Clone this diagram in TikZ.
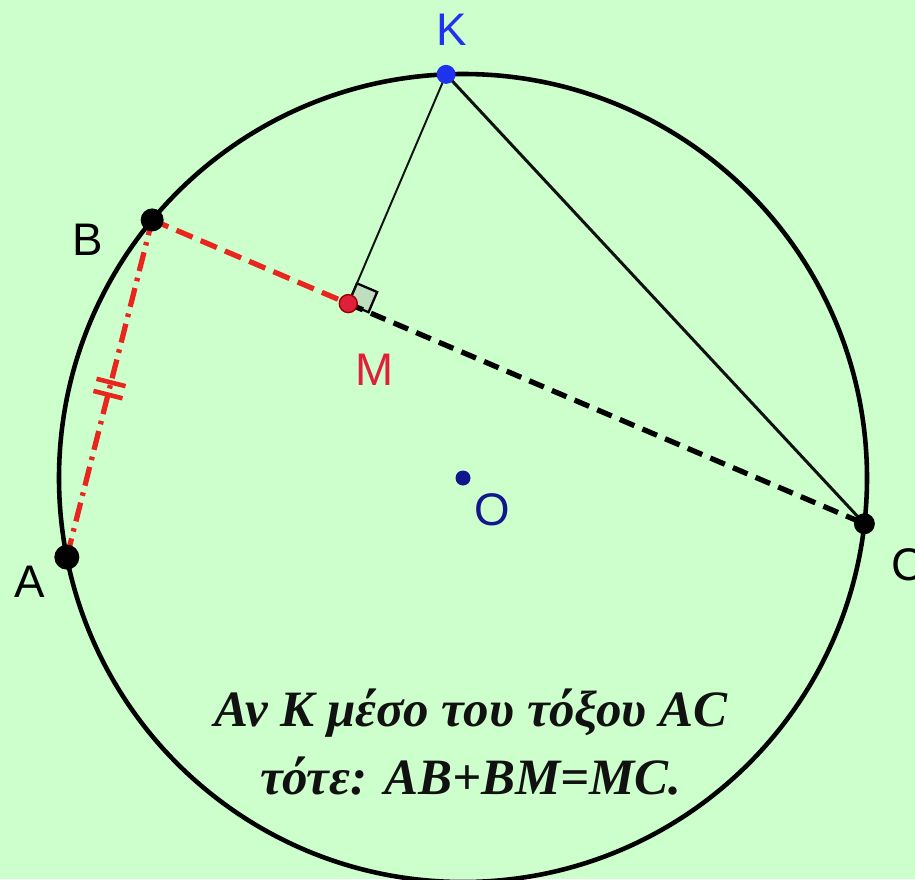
\documentclass[tikz,border=0pt]{standalone}
\usepackage{fontspec}
\setmainfont{Liberation Serif}
\newfontfamily\lblfont{Liberation Sans}
\usetikzlibrary{calc}
\definecolor{geobg}{HTML}{CCFFCC}
\definecolor{geoink}{HTML}{111111}
\definecolor{geoblue}{HTML}{1E32F0}
\definecolor{geored}{HTML}{E0203A}
\definecolor{geodash}{HTML}{E8261E}
\definecolor{geonavy}{HTML}{10168C}
\definecolor{geosq}{HTML}{BFDDBF}
\tikzset{
  rim/.style      = {line width=2.6pt, draw=black},
  chord/.style    = {line width=1.7pt, draw=geoink},
  thinseg/.style  = {line width=1.1pt, draw=geoink},
  blackdash/.style = {line width=3pt, draw=black, dash pattern=on 9pt off 5pt},
  reddash/.style  = {line width=3pt, draw=geodash, dash pattern=on 10pt off 5pt},
  reddot/.style   = {line width=3pt, draw=geodash, dash pattern=on 11pt off 4pt on 2pt off 4pt},
  tickmark/.style = {line width=2.6pt, draw=geodash},
  rightmark/.style = {line width=1.3pt, draw=black, fill=geosq},
  dot/.style      = {circle, inner sep=0pt, fill=black, minimum size=0.44cm},
  lbl/.style      = {font=\lblfont\fontsize{26}{30}\selectfont, inner sep=0pt},
  note/.style     = {font=\fontsize{29}{39}\selectfont\bfseries\itshape, text=geoink,
                     align=center, inner sep=0pt},
}
\begin{document}
\begin{tikzpicture}[x=0.02cm, y=0.02cm]
\useasboundingbox (-463,-401) rectangle (452,478);
\fill[geobg] (-463,-401) rectangle (452,478);

% points of the figure
\coordinate (O) at (0,0);
\coordinate (K) at (92.4:404);
\coordinate (B) at (140.3:404);
\coordinate (A) at (191.3:404);
\coordinate (C) at (-6.5:404);
\coordinate (M) at ($(B)!(K)!(C)$);

\draw[rim] (O) circle [radius=404];

% right angle at M
\coordinate (sq1) at ($(M)!0.44cm!(C)$);
\coordinate (sq2) at ($(M)!0.44cm!(K)$);
\filldraw[rightmark] (M) -- (sq1) -- ($(sq1)+(sq2)-(M)$) -- (sq2) -- cycle;

\draw[thinseg] (K) -- (M);
\draw[chord] (K) -- (C);
\draw[blackdash] (M) -- (C);
\draw[reddash] (B) -- (M);
\draw[reddot] (A) -- (B);
\draw[tickmark] ($(A)!0.482!(B)!0.3cm!90:(B)$) -- ($(A)!0.482!(B)!0.3cm!-90:(B)$);
\draw[tickmark] ($(A)!0.518!(B)!0.3cm!90:(B)$) -- ($(A)!0.518!(B)!0.3cm!-90:(B)$);

\node[dot, minimum size=0.5cm] (dA) at (A) {};
\node[dot, minimum size=0.46cm] (dB) at (B) {};
\node[dot, minimum size=0.42cm] (dC) at (C) {};
\node[dot, fill=geoblue, minimum size=0.38cm] (dK) at (K) {};
\node[dot, fill=geored, draw=red!60!black, line width=0.8pt, minimum size=0.36cm] (dM) at (M) {};
\node[dot, fill=geonavy, minimum size=0.3cm] (dO) at (O) {};

\node[lbl, text=geoblue] (lK) at (-11,448) {K};
\node[lbl] (lB) at (-375,238) {B};
\node[lbl] (lA) at (-433,-104) {A};
\node[lbl] (lC) at (445,-87) {C};
\node[lbl, text=geored] (lM) at (-88,108) {M};
\node[lbl, text=geonavy] (lO) at (29,-32) {O};

\node[note] (claim) at (8,-264) {Αν K μέσο του τόξου AC\\τότε: AB+BM=MC.};

\end{tikzpicture}
\end{document}
